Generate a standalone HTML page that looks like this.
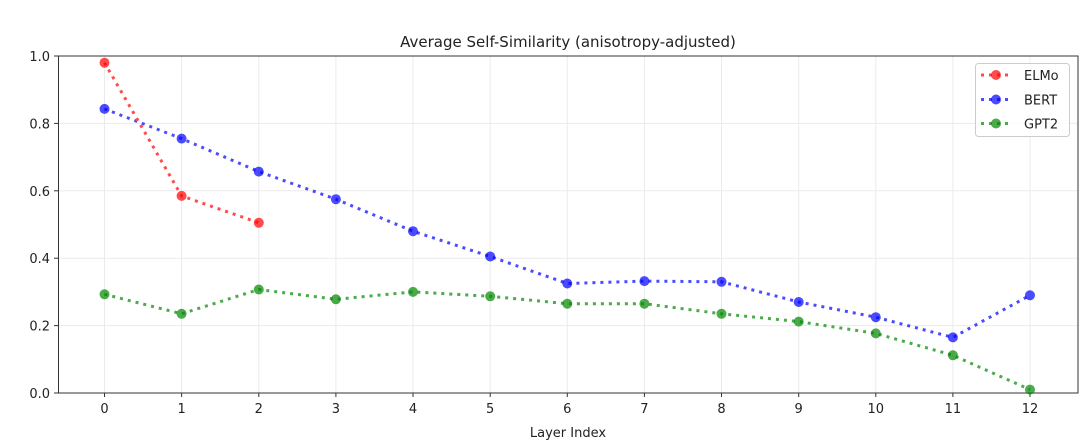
<!DOCTYPE html>
<html><head><style>body{margin:0;background:#fff}svg{display:block;font-family:"DejaVu Sans","Liberation Sans",sans-serif}</style></head>
<body>
<svg width="1092" height="442" viewBox="0 0 1092 442">
<g stroke="#ebebeb" stroke-width="1">
<line x1="104.5" y1="56" x2="104.5" y2="393"/><line x1="181.6" y1="56" x2="181.6" y2="393"/><line x1="258.8" y1="56" x2="258.8" y2="393"/><line x1="335.9" y1="56" x2="335.9" y2="393"/><line x1="413" y1="56" x2="413" y2="393"/><line x1="490.2" y1="56" x2="490.2" y2="393"/><line x1="567.3" y1="56" x2="567.3" y2="393"/><line x1="644.4" y1="56" x2="644.4" y2="393"/><line x1="721.5" y1="56" x2="721.5" y2="393"/><line x1="798.7" y1="56" x2="798.7" y2="393"/><line x1="875.8" y1="56" x2="875.8" y2="393"/><line x1="952.9" y1="56" x2="952.9" y2="393"/><line x1="1030" y1="56" x2="1030" y2="393"/>
<line x1="58.5" y1="325.6" x2="1078" y2="325.6"/><line x1="58.5" y1="258.2" x2="1078" y2="258.2"/><line x1="58.5" y1="190.8" x2="1078" y2="190.8"/><line x1="58.5" y1="123.4" x2="1078" y2="123.4"/>
</g>
<rect x="58.5" y="56" width="1019.5" height="337" fill="none" stroke="#333" stroke-width="1"/>
<g stroke="#333"><line x1="54" y1="393" x2="58.5" y2="393"/><line x1="54" y1="325.6" x2="58.5" y2="325.6"/><line x1="54" y1="258.2" x2="58.5" y2="258.2"/><line x1="54" y1="190.8" x2="58.5" y2="190.8"/><line x1="54" y1="123.4" x2="58.5" y2="123.4"/><line x1="54" y1="56" x2="58.5" y2="56"/></g>
<g font-size="13" fill="#222" text-anchor="end"><text x="50" y="398">0.0</text><text x="50" y="330.6">0.2</text><text x="50" y="263.2">0.4</text><text x="50" y="195.8">0.6</text><text x="50" y="128.4">0.8</text><text x="50" y="61">1.0</text></g>
<g font-size="13" fill="#222" text-anchor="middle">
<text x="104.5" y="413">0</text><text x="181.6" y="413">1</text><text x="258.8" y="413">2</text><text x="335.9" y="413">3</text><text x="413" y="413">4</text><text x="490.2" y="413">5</text><text x="567.3" y="413">6</text><text x="644.4" y="413">7</text><text x="721.5" y="413">8</text><text x="798.7" y="413">9</text><text x="875.8" y="413">10</text><text x="952.9" y="413">11</text><text x="1030" y="413">12</text>
<text x="568" y="437">Layer Index</text>
<text x="568" y="47" font-size="15">Average Self-Similarity (anisotropy-adjusted)</text>
</g>
<g stroke="#333"><line x1="104.5" y1="393" x2="104.5" y2="397"/><line x1="181.6" y1="393" x2="181.6" y2="397"/><line x1="258.8" y1="393" x2="258.8" y2="397"/><line x1="335.9" y1="393" x2="335.9" y2="397"/><line x1="413" y1="393" x2="413" y2="397"/><line x1="490.2" y1="393" x2="490.2" y2="397"/><line x1="567.3" y1="393" x2="567.3" y2="397"/><line x1="644.4" y1="393" x2="644.4" y2="397"/><line x1="721.5" y1="393" x2="721.5" y2="397"/><line x1="798.7" y1="393" x2="798.7" y2="397"/><line x1="875.8" y1="393" x2="875.8" y2="397"/><line x1="952.9" y1="393" x2="952.9" y2="397"/><line x1="1030" y1="393" x2="1030" y2="397"/></g>
<g opacity="0.7" fill="none" stroke-width="3" stroke-dasharray="3,5">
<polyline stroke="#00f" points="104.5,108.9 181.6,138.6 258.8,171.6 335.9,199.2 413,231.2 490.2,256.5 567.3,283.5 644.4,281.1 721.5,281.8 798.7,302 875.8,317.2 952.9,337.4 1030,295.3"/>
<polyline stroke="#080" points="104.5,294.3 181.6,313.8 258.8,289.5 335.9,299.3 413,291.9 490.2,296.3 567.3,303.7 644.4,303.7 721.5,313.8 798.7,321.6 875.8,333.4 952.9,355.3 1030,389.6"/>
<polyline stroke="#f00" points="104.5,62.7 181.6,195.9 258.8,222.8"/>
</g>
<g opacity="0.7">
<g fill="#00f"><circle cx="104.5" cy="108.9" r="5"/><circle cx="181.6" cy="138.6" r="5"/><circle cx="258.8" cy="171.6" r="5"/><circle cx="335.9" cy="199.2" r="5"/><circle cx="413" cy="231.2" r="5"/><circle cx="490.2" cy="256.5" r="5"/><circle cx="567.3" cy="283.5" r="5"/><circle cx="644.4" cy="281.1" r="5"/><circle cx="721.5" cy="281.8" r="5"/><circle cx="798.7" cy="302" r="5"/><circle cx="875.8" cy="317.2" r="5"/><circle cx="952.9" cy="337.4" r="5"/><circle cx="1030" cy="295.3" r="5"/></g>
<g fill="#080"><circle cx="104.5" cy="294.3" r="5"/><circle cx="181.6" cy="313.8" r="5"/><circle cx="258.8" cy="289.5" r="5"/><circle cx="335.9" cy="299.3" r="5"/><circle cx="413" cy="291.9" r="5"/><circle cx="490.2" cy="296.3" r="5"/><circle cx="567.3" cy="303.7" r="5"/><circle cx="644.4" cy="303.7" r="5"/><circle cx="721.5" cy="313.8" r="5"/><circle cx="798.7" cy="321.6" r="5"/><circle cx="875.8" cy="333.4" r="5"/><circle cx="952.9" cy="355.3" r="5"/><circle cx="1030" cy="389.6" r="5"/></g>
<g fill="#f00"><circle cx="104.5" cy="62.7" r="5"/><circle cx="181.6" cy="195.9" r="5"/><circle cx="258.8" cy="222.8" r="5"/></g>
</g>
<rect x="975.5" y="63.5" width="94" height="73" rx="3" fill="#fff" fill-opacity="0.8" stroke="#ccc"/>
<g opacity="0.7" stroke-width="3" stroke-dasharray="3,5">
<line x1="981" y1="75" x2="1012" y2="75" stroke="#f00"/><line x1="981" y1="99.5" x2="1012" y2="99.5" stroke="#00f"/><line x1="981" y1="123.5" x2="1012" y2="123.5" stroke="#080"/>
</g>
<g opacity="0.7"><circle cx="996" cy="75" r="5" fill="#f00"/><circle cx="996" cy="99.5" r="5" fill="#00f"/><circle cx="996" cy="123.5" r="5" fill="#080"/></g>
<g font-size="13" fill="#222"><text x="1024" y="80">ELMo</text><text x="1024" y="104.5">BERT</text><text x="1024" y="128.5">GPT2</text></g>
</svg>
</body></html>
